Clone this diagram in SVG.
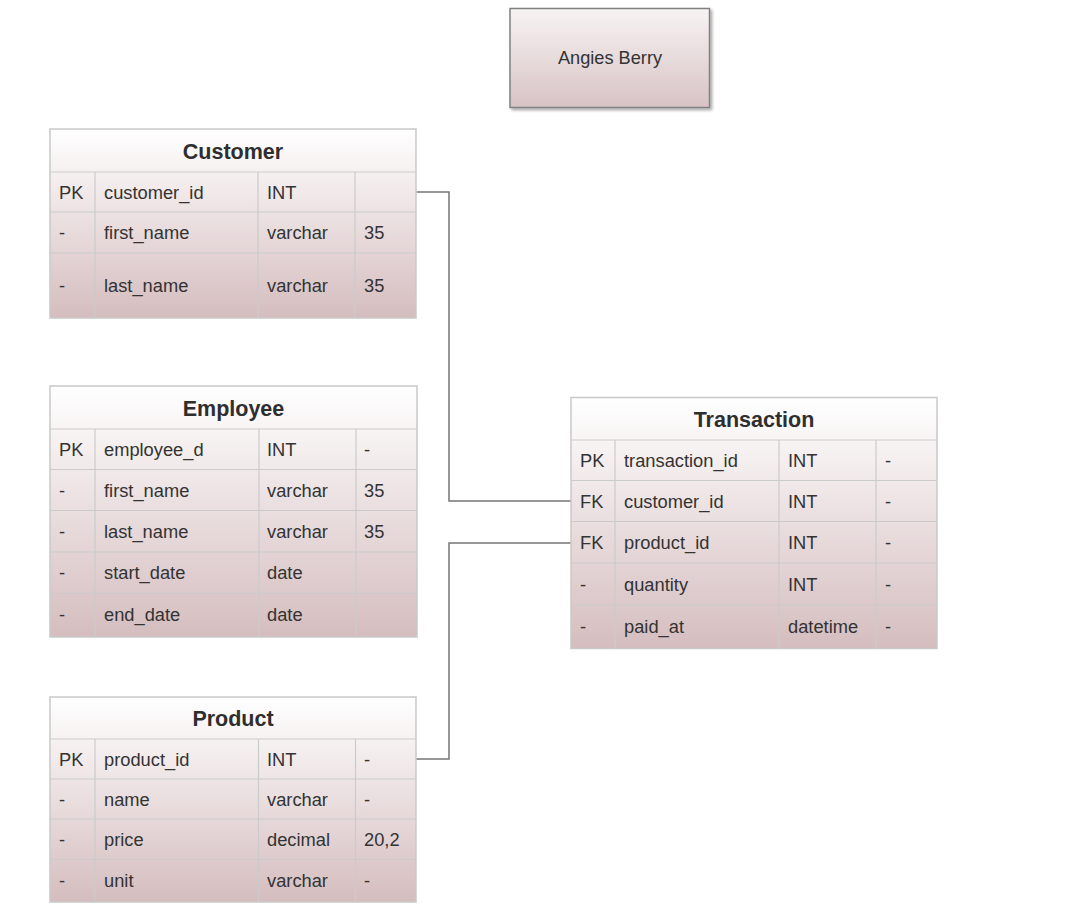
<svg xmlns="http://www.w3.org/2000/svg" width="1080" height="913" viewBox="0 0 1080 913">
  <defs>
    <linearGradient id="tblFill" x1="0" y1="0" x2="0" y2="1">
      <stop offset="0" stop-color="#ffffff"/>
      <stop offset="1" stop-color="#d5bdbf"/>
    </linearGradient>
    <linearGradient id="titleFill" x1="0" y1="0" x2="0" y2="1">
      <stop offset="0" stop-color="#f7f3f3"/>
      <stop offset="1" stop-color="#d8c3c5"/>
    </linearGradient>
    <filter id="shadow" x="-10%" y="-10%" width="125%" height="130%">
      <feGaussianBlur in="SourceAlpha" stdDeviation="1.5"/>
      <feOffset dx="2" dy="2" result="off"/>
      <feComponentTransfer><feFuncA type="linear" slope="0.35"/></feComponentTransfer>
      <feMerge><feMergeNode/><feMergeNode in="SourceGraphic"/></feMerge>
    </filter>
  </defs>
  <style>
    .tbl { fill: url(#tblFill); stroke: #c9c9c9; stroke-width: 1.5; }
    .grid { stroke: #cbcbcb; stroke-width: 1.2; fill: none; }
    .title { fill: url(#titleFill); stroke: #808080; stroke-width: 1.5; }
    .hdr { font-family: "Liberation Sans", Arial, sans-serif; font-size: 21.5px; font-weight: bold; fill: #2e2e2e; text-anchor: middle; }
    .cell { font-family: "Liberation Sans", Arial, sans-serif; font-size: 18.3px; fill: #333333; }
    .lbl { font-family: "Liberation Sans", Arial, sans-serif; font-size: 18.2px; fill: #333333; text-anchor: middle; }
    .conn { stroke: #767676; stroke-width: 1.5; fill: none; }
  </style>

  <rect width="1080" height="913" fill="#ffffff"/>

  <!-- relationship lines -->
  <g id="connectors">
    <polyline class="conn" points="416,192 449,192 449,501 571,501"/>
    <polyline class="conn" points="416,759 449,759 449,543 571,543"/>
  </g>

  <!-- title box -->
  <g id="title">
    <rect class="title" x="510" y="8.5" width="199.5" height="99" filter="url(#shadow)"/>
    <text class="lbl" x="610" y="64">Angies Berry</text>
  </g>

  <!-- Customer -->
  <g id="customer">
    <rect class="tbl" x="50" y="129" width="366" height="189"/>
    <path class="grid" d="M50,172H416M50,212H416M50,253H416M95,172V318M258,172V318M355,172V318"/>
    <text class="hdr" x="233" y="158.5">Customer</text>
    <text class="cell" x="59" y="198.5">PK</text>
    <text class="cell" x="104" y="198.5">customer_id</text>
    <text class="cell" x="267" y="198.5">INT</text>
    <text class="cell" x="59" y="239">-</text>
    <text class="cell" x="104" y="239">first_name</text>
    <text class="cell" x="267" y="239">varchar</text>
    <text class="cell" x="364" y="239">35</text>
    <text class="cell" x="59" y="291.5">-</text>
    <text class="cell" x="104" y="291.5">last_name</text>
    <text class="cell" x="267" y="291.5">varchar</text>
    <text class="cell" x="364" y="291.5">35</text>
  </g>

  <!-- Employee -->
  <g id="employee">
    <rect class="tbl" x="50" y="386" width="367" height="251"/>
    <path class="grid" d="M50,429H417M50,469.5H417M50,510.5H417M50,552H417M50,593.5H417M95,429V637M259,429V637M356,429V637"/>
    <text class="hdr" x="233.5" y="415.5">Employee</text>
    <text class="cell" x="59" y="455.5">PK</text>
    <text class="cell" x="104" y="455.5">employee_d</text>
    <text class="cell" x="267" y="455.5">INT</text>
    <text class="cell" x="364" y="455.5">-</text>
    <text class="cell" x="59" y="496.5">-</text>
    <text class="cell" x="104" y="496.5">first_name</text>
    <text class="cell" x="267" y="496.5">varchar</text>
    <text class="cell" x="364" y="496.5">35</text>
    <text class="cell" x="59" y="537.5">-</text>
    <text class="cell" x="104" y="537.5">last_name</text>
    <text class="cell" x="267" y="537.5">varchar</text>
    <text class="cell" x="364" y="537.5">35</text>
    <text class="cell" x="59" y="579">-</text>
    <text class="cell" x="104" y="579">start_date</text>
    <text class="cell" x="267" y="579">date</text>
    <text class="cell" x="59" y="620.5">-</text>
    <text class="cell" x="104" y="620.5">end_date</text>
    <text class="cell" x="267" y="620.5">date</text>
  </g>

  <!-- Product -->
  <g id="product">
    <rect class="tbl" x="50" y="697" width="366" height="205"/>
    <path class="grid" d="M50,739H416M50,779H416M50,819H416M50,859.5H416M95,739V902M258.5,739V902M355.5,739V902"/>
    <text class="hdr" x="233" y="726">Product</text>
    <text class="cell" x="59" y="765.5">PK</text>
    <text class="cell" x="104" y="765.5">product_id</text>
    <text class="cell" x="267" y="765.5">INT</text>
    <text class="cell" x="364" y="765.5">-</text>
    <text class="cell" x="59" y="805.5">-</text>
    <text class="cell" x="104" y="805.5">name</text>
    <text class="cell" x="267" y="805.5">varchar</text>
    <text class="cell" x="364" y="805.5">-</text>
    <text class="cell" x="59" y="845.5">-</text>
    <text class="cell" x="104" y="845.5">price</text>
    <text class="cell" x="267" y="845.5">decimal</text>
    <text class="cell" x="364" y="845.5">20,2</text>
    <text class="cell" x="59" y="886.5">-</text>
    <text class="cell" x="104" y="886.5">unit</text>
    <text class="cell" x="267" y="886.5">varchar</text>
    <text class="cell" x="364" y="886.5">-</text>
  </g>

  <!-- Transaction -->
  <g id="transaction">
    <rect class="tbl" x="571" y="397.5" width="366" height="251"/>
    <path class="grid" d="M571,440H937M571,480.5H937M571,521.5H937M571,563H937M571,605H937M615,440V648.5M779,440V648.5M876,440V648.5"/>
    <text class="hdr" x="754" y="427">Transaction</text>
    <text class="cell" x="580" y="467">PK</text>
    <text class="cell" x="624" y="467">transaction_id</text>
    <text class="cell" x="788" y="467">INT</text>
    <text class="cell" x="885" y="467">-</text>
    <text class="cell" x="580" y="507.5">FK</text>
    <text class="cell" x="624" y="507.5">customer_id</text>
    <text class="cell" x="788" y="507.5">INT</text>
    <text class="cell" x="885" y="507.5">-</text>
    <text class="cell" x="580" y="548.5">FK</text>
    <text class="cell" x="624" y="548.5">product_id</text>
    <text class="cell" x="788" y="548.5">INT</text>
    <text class="cell" x="885" y="548.5">-</text>
    <text class="cell" x="580" y="590.5">-</text>
    <text class="cell" x="624" y="590.5">quantity</text>
    <text class="cell" x="788" y="590.5">INT</text>
    <text class="cell" x="885" y="590.5">-</text>
    <text class="cell" x="580" y="632.5">-</text>
    <text class="cell" x="624" y="632.5">paid_at</text>
    <text class="cell" x="788" y="632.5">datetime</text>
    <text class="cell" x="885" y="632.5">-</text>
  </g>
</svg>
